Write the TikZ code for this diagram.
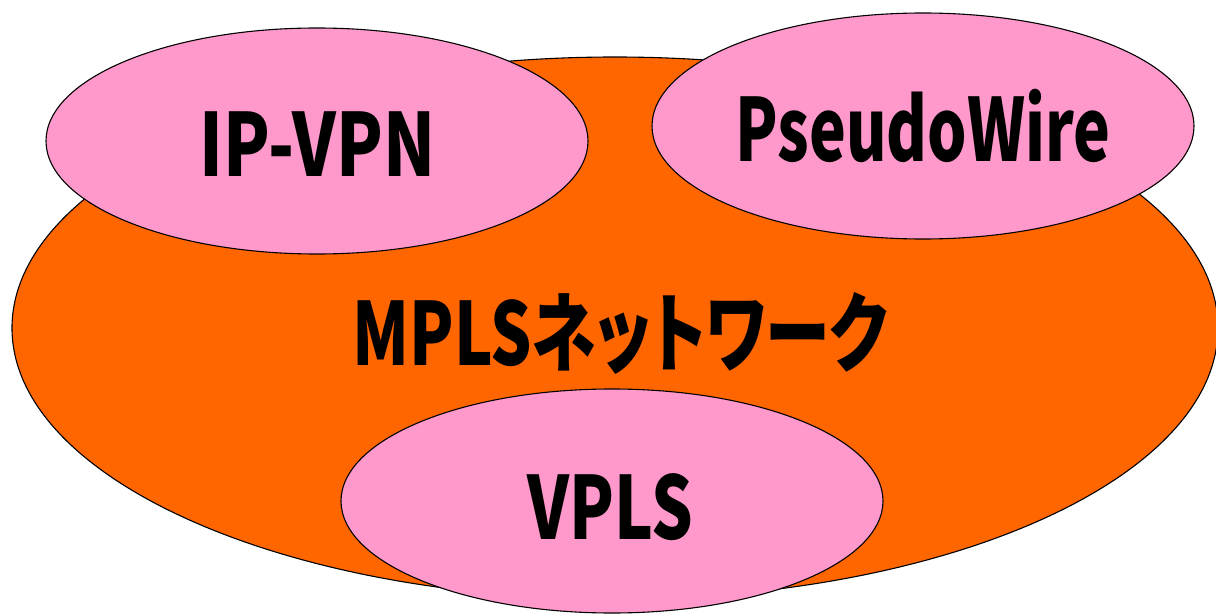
\documentclass[tikz,border=0pt]{standalone}
\usepackage{fontspec}
\usetikzlibrary{shapes.geometric}
\newfontfamily\jpfont{Noto Sans CJK JP}[FakeStretch=0.86,RawFeature=+palt]

\definecolor{netorange}{RGB}{255,102,0}
\definecolor{svcpink}{RGB}{255,153,204}

% narrow a label horizontally, keeping its height
\newcommand\narrowto[2]{\scalebox{#1}[1]{#2}}

\tikzset{
  area/.style={ellipse, draw=black, line width=1.1pt, inner sep=0pt},
  network/.style={area, fill=netorange, minimum width=1206pt, minimum height=542pt},
  service/.style={area, fill=svcpink, minimum width=542pt, minimum height=226pt},
  caption/.style={inner sep=0pt, anchor=base, font=\jpfont\bfseries\fontsize{87}{87}\selectfont}
}

\begin{document}
\begin{tikzpicture}[x=1pt, y=-1pt]
  \useasboundingbox (0,0) rectangle (1216,615);

  % core network and the services running over it
  \node[network] (mpls) at (615,328) {};
  \node[service] (ipvpn) at (317,141) {};
  \node[service] (pw) at (923,126) {};
  \node[service, minimum height=224pt] (vpls) at (612,501) {};

  % labels
  \node[caption] (mplslbl) at (620,365) {\narrowto{0.868}{MPLSネットワーク}};
  \node[caption] (ipvpnlbl) at (317.5,176) {\narrowto{0.911}{IP-VPN}};
  \node[caption] (pwlbl) at (923,162) {\narrowto{0.83}{PseudoWire}};
  \node[caption] (vplslbl) at (610.5,539) {\narrowto{0.874}{VPLS}};
\end{tikzpicture}
\end{document}
